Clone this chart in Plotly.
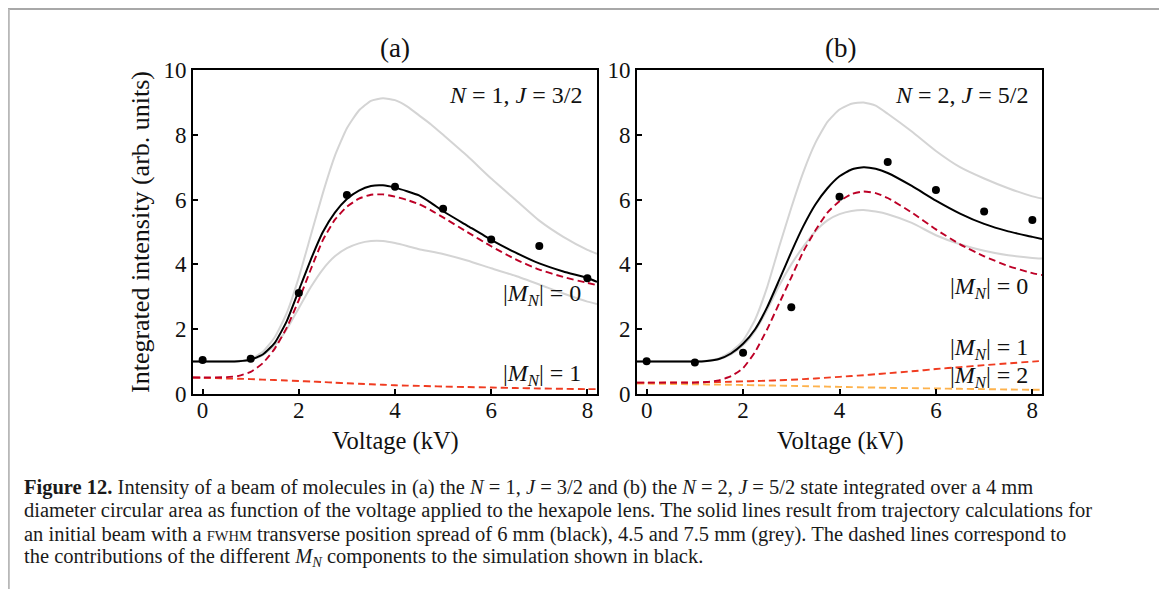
import plotly.graph_objects as go

# page body has an 8px margin; figure is sized so that it fills the window exactly
OFF = 8
FW, FH = 1167 - OFF, 589 - OFF

# ---------------- data ----------------
volt_pts = [0, 1, 2, 3, 4, 5, 6, 7, 8]
a_meas = [1.05, 1.09, 3.12, 6.14, 6.40, 5.72, 4.77, 4.57, 3.57]
b_meas = [1.01, 0.97, 1.27, 2.68, 6.09, 7.16, 6.30, 5.63, 5.37]

xs = [-0.2, 0.0, 0.5, 0.75, 1.0, 1.25, 1.5, 1.75, 2.0, 2.25, 2.5, 2.75, 3.0, 3.25,
      3.5, 3.75, 4.0, 4.25, 4.5, 4.75, 5.0, 5.5, 6.0, 6.5, 7.0, 7.5, 8.0, 8.2]

a_black = [1.0, 1.0, 1.0, 1.01, 1.06, 1.22, 1.58, 2.25, 3.2, 4.15, 5.0, 5.6, 6.02, 6.28,
           6.42, 6.44, 6.37, 6.26, 6.13, 5.9, 5.64, 5.2, 4.76, 4.37, 4.03, 3.78, 3.58, 3.46]
a_grey_hi = [1.0, 1.0, 1.0, 1.02, 1.08, 1.3, 1.75, 2.5, 3.6, 4.9, 6.2, 7.35, 8.2, 8.75,
             9.05, 9.13, 9.07, 8.88, 8.6, 8.32, 8.0, 7.35, 6.65, 6.0, 5.35, 4.85, 4.45, 4.33]
a_grey_lo = [1.0, 1.0, 1.0, 1.01, 1.05, 1.2, 1.5, 2.0, 2.65, 3.3, 3.85, 4.25, 4.5, 4.65,
             4.72, 4.72, 4.66, 4.57, 4.47, 4.4, 4.32, 4.12, 3.88, 3.65, 3.38, 3.1, 2.85, 2.78]
a_m0 = [0.51, 0.51, 0.52, 0.56, 0.68, 0.95, 1.4, 2.05, 2.9, 3.85, 4.75, 5.38, 5.78, 6.03,
        6.15, 6.16, 6.09, 5.99, 5.86, 5.67, 5.45, 5.0, 4.56, 4.16, 3.84, 3.61, 3.43, 3.36]
a_m1 = [0.51, 0.50, 0.48, 0.47, 0.46, 0.445, 0.43, 0.415, 0.40, 0.385, 0.37, 0.35, 0.33, 0.315,
        0.30, 0.285, 0.27, 0.26, 0.25, 0.24, 0.23, 0.215, 0.20, 0.185, 0.17, 0.16, 0.15, 0.15]

b_black = [1.0, 1.0, 1.0, 1.0, 1.0, 1.02, 1.08, 1.25, 1.55, 2.0, 2.68, 3.52, 4.38, 5.18,
           5.85, 6.35, 6.72, 6.93, 7.0, 6.95, 6.82, 6.42, 5.97, 5.57, 5.25, 5.02, 4.85, 4.78]
b_grey_hi = [1.0, 1.0, 1.0, 1.0, 1.0, 1.03, 1.1, 1.3, 1.65, 2.3, 3.3, 4.55, 5.75, 6.85,
             7.75, 8.4, 8.78, 8.96, 9.0, 8.9, 8.65, 8.1, 7.5, 7.0, 6.65, 6.35, 6.1, 6.03]
b_grey_lo = [1.0, 1.0, 1.0, 1.0, 1.0, 1.02, 1.07, 1.22, 1.5, 1.95, 2.6, 3.35, 4.0, 4.55,
             5.02, 5.36, 5.55, 5.65, 5.68, 5.63, 5.55, 5.28, 4.9, 4.62, 4.42, 4.28, 4.2, 4.18]
b_m0 = [0.35, 0.35, 0.35, 0.35, 0.35, 0.37, 0.42, 0.55, 0.8, 1.3, 2.0, 2.8, 3.6, 4.4,
        5.05, 5.6, 5.95, 6.17, 6.25, 6.2, 6.05, 5.6, 5.08, 4.62, 4.25, 3.95, 3.73, 3.67]
b_m1 = [0.35, 0.35, 0.355, 0.357, 0.36, 0.365, 0.37, 0.38, 0.39, 0.40, 0.41, 0.425, 0.44, 0.46,
        0.48, 0.505, 0.53, 0.555, 0.58, 0.61, 0.64, 0.70, 0.77, 0.83, 0.89, 0.945, 1.0, 1.02]
b_m2 = [0.32, 0.32, 0.31, 0.305, 0.30, 0.295, 0.29, 0.285, 0.28, 0.27, 0.265, 0.258, 0.25, 0.243,
        0.235, 0.228, 0.22, 0.212, 0.205, 0.198, 0.19, 0.18, 0.17, 0.16, 0.15, 0.14, 0.13, 0.13]

x_ticks = [0, 2, 4, 6, 8]
y_ticks = [0, 2, 4, 6, 8, 10]

# ---------------- styling ----------------
SERIF = "Liberation Serif"
GREY = "#d4d4d4"
RED0 = "#bd0026"
RED1 = "#f03b20"
RED2 = "#feb24c"
DASH = "7px,4px"

fig = go.Figure()


def add_panel(xa, ya, black, ghi, glo, comps, meas):
    for g in (ghi, glo):
        fig.add_trace(go.Scatter(x=xs, y=g, mode="lines", xaxis=xa, yaxis=ya,
                                 line=dict(color=GREY, width=2, shape="spline", smoothing=0.5),
                                 showlegend=False, hoverinfo="skip"))
    for vals, col in comps:
        fig.add_trace(go.Scatter(x=xs, y=vals, mode="lines", xaxis=xa, yaxis=ya,
                                 line=dict(color=col, width=1.9, dash=DASH, shape="spline",
                                           smoothing=0.5),
                                 showlegend=False))
    fig.add_trace(go.Scatter(x=xs, y=black, mode="lines", xaxis=xa, yaxis=ya,
                             line=dict(color="black", width=2, shape="spline", smoothing=0.5),
                             showlegend=False))
    fig.add_trace(go.Scatter(x=volt_pts, y=meas, mode="markers", xaxis=xa, yaxis=ya,
                             marker=dict(color="black", size=8), showlegend=False))


add_panel("x", "y", a_black, a_grey_hi, a_grey_lo, [(a_m1, RED1), (a_m0, RED0)], a_meas)
add_panel("x2", "y2", b_black, b_grey_hi, b_grey_lo,
          [(b_m2, RED2), (b_m1, RED1), (b_m0, RED0)], b_meas)


def px(x):
    return (x - OFF) / FW


def py(y):
    return 1 - (y - OFF) / FH


axis_common = dict(showline=True, linewidth=2, linecolor="black", mirror=True,
                   ticks="inside", ticklen=5, tickwidth=1.6, tickcolor="black",
                   showgrid=False, zeroline=False, automargin=False,
                   tickfont=dict(family=SERIF, size=23, color="#111"))

ax_a = (px(193), px(597))
ax_b = (px(637), px(1042))
ay = (py(394), py(70))

fig.update_layout(
    width=FW, height=FH,
    margin=dict(l=0, r=0, t=0, b=0, pad=0),
    paper_bgcolor="white", plot_bgcolor="white",
    showlegend=False,
    xaxis=dict(domain=ax_a, range=[-0.2, 8.2], tickvals=x_ticks, anchor="y",
               ticklabelstandoff=-6, **axis_common),
    yaxis=dict(domain=ay, range=[0, 10], tickvals=y_ticks, anchor="x", **axis_common),
    xaxis2=dict(domain=ax_b, range=[-0.2, 8.2], tickvals=x_ticks, anchor="y2",
                ticklabelstandoff=-6, **axis_common),
    yaxis2=dict(domain=ay, range=[0, 10], tickvals=y_ticks, anchor="x2", **axis_common),
)

ann = []


def text(x, y, t, size, xanchor="center", yanchor="middle", textangle=0, color="#111",
         family=SERIF):
    ann.append(dict(x=px(x), y=py(y), xref="paper", yref="paper", text=t, showarrow=False,
                    xanchor=xanchor, yanchor=yanchor, textangle=textangle,
                    font=dict(family=family, size=size, color=color)))


# panel titles and axis titles
text(395, 48, "(a)", 27)
text(840, 48, "(b)", 27)
text(395, 441, "Voltage (kV)", 24.5)
text(840, 441, "Voltage (kV)", 24.5)
text(140, 232, "Integrated intensity (arb. units)", 26, textangle=-90)

# in-panel labels
MN = "|<i>M</i><sub><i>N</i></sub>|"
text(584, 95, "<i>N</i> = 1, <i>J</i> = 3/2", 24, xanchor="right")
text(583, 295, MN + " = 0", 24, xanchor="right")
text(583, 375, MN + " = 1", 24, xanchor="right")
text(1030, 95, "<i>N</i> = 2, <i>J</i> = 5/2", 24, xanchor="right")
text(1030, 288, MN + " = 0", 24, xanchor="right")
text(1030, 349, MN + " = 1", 24, xanchor="right")
text(1030, 377, MN + " = 2", 24, xanchor="right")

# caption
cap = [
    "<b>Figure 12.</b> Intensity of a beam of molecules in (a) the <i>N</i> = 1, <i>J</i> = 3/2 "
    "and (b) the <i>N</i> = 2, <i>J</i> = 5/2 state integrated over a 4 mm",
    "diameter circular area as function of the voltage applied to the hexapole lens. "
    "The solid lines result from trajectory calculations for",
    "an initial beam with a <span style='font-size:14.5px'>FWHM</span> transverse position spread "
    "of 6 mm (black), 4.5 and 7.5 mm (grey). The dashed lines correspond to",
    "the contributions of the different <i>M</i><sub><i>N</i></sub> components to the "
    "simulation shown in black.",
]
for i, line in enumerate(cap):
    text(22, 487 + i * 23.5, line, 20.5, xanchor="left", color="#1a1a1a")

fig.update_layout(annotations=ann)

# outer frame
BC = "#b8b8b8"
fig.update_layout(shapes=[
    dict(type="line", xref="paper", yref="paper", x0=px(8), x1=px(1163), y0=py(9), y1=py(9),
         line=dict(color="#a8a8a8", width=2)),
    dict(type="line", xref="paper", yref="paper", x0=px(8.8), x1=px(8.8), y0=py(9), y1=0,
         line=dict(color=BC, width=2)),
    dict(type="line", xref="paper", yref="paper", x0=px(1163), x1=px(1163), y0=py(9), y1=0,
         line=dict(color=BC, width=2)),
])

fig.write_html("out.html")
